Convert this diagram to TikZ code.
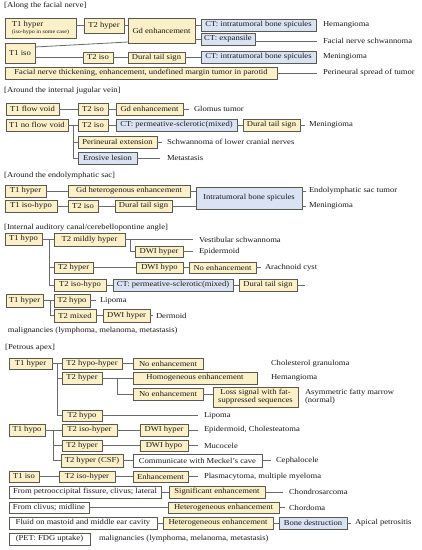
\documentclass[tikz,border=0pt]{standalone}
\usepackage{fontspec}
\setmainfont{Liberation Serif}[FakeStretch=1.13]
\usetikzlibrary{calc}
\definecolor{yfill}{HTML}{FBF0C8}
\definecolor{bfill}{HTML}{DAE3F3}
\definecolor{bord}{HTML}{595950}
\definecolor{lnc}{HTML}{6A6A6A}
\newcommand{\figfs}{\fontsize{7.6}{8.2}\selectfont}
\newcommand{\mybox}[7]{\node[#6,minimum width={#4-#2},minimum height={#5-#3}] (#1) at ({(#2+#4)/2},{(#3+#5)/2}) {#7};}
\tikzset{
  base/.style={draw=bord, line width=0.9pt, inner sep=1pt, outer sep=0pt, font=\figfs, text=black!90},
  yb/.style={base, fill=yfill},
  bb/.style={base, fill=bfill},
  wb/.style={base, fill=white},
  lbl/.style={anchor=west, inner sep=0pt, outer sep=0pt, font=\figfs, text=black!90},
  hdr/.style={anchor=west, inner sep=0pt, font=\figfs, text=black!90},
  ln/.style={draw=lnc, line width=0.8pt}
}
\begin{document}
\begin{tikzpicture}[x=1pt,y=-1pt]
\useasboundingbox[fill=white] (0,0) rectangle (422,550);
% ---------- Section 1
\node[hdr] (h1) at (4,6) {[Along the facial nerve]};
\mybox{fa}{5}{18}{76}{38}{yb,align=left}{T1 hyper\\[-1pt]{\fontsize{5.3}{5.6}\selectfont(iso-hypo in some case)}}
\mybox{fb}{84}{18}{124}{33}{yb}{T2 hyper}
\mybox{fc}{128}{18}{195}{43}{yb}{Gd enhancement}
\mybox{fd}{201}{19}{316}{31}{bb}{CT: intratumoral bone spicules}
\mybox{fe}{201}{33}{255}{45}{bb}{CT: expansile}
\mybox{ff}{5}{43}{35}{63}{yb}{T1 iso}
\mybox{fg}{83}{52}{113}{63}{yb}{T2 iso}
\mybox{fh}{128}{52}{185}{63}{yb}{Dural tail sign}
\mybox{fi}{201}{51}{316}{63}{bb}{CT: intratumoral bone spicules}
\mybox{fj}{5}{67}{277}{79}{yb}{Facial nerve thickening, enhancement, undefined margin tumor in parotid}
\node[lbl] (fl1) at (323,25) {Hemangioma};
\node[lbl] (fl2) at (323,41) {Facial nerve schwannoma};
\node[lbl] (fl3) at (323,57) {Meningioma};
\node[lbl] (fl4) at (323,73) {Perineural spread of tumor};
\draw[ln] (fa.east |- fb.west) -- (fb.west);
\draw[ln] (fb.east) -- (fb.east -| fc.west);
\draw[ln] (fd.west -| fc.east) -- (fd.west);
\draw[ln] (fe.west -| fc.east) -- (fe.west);
\draw[ln,shorten >=6pt] (fe.east |- fl2.west) -- (fl2.west);
\draw[ln] ($(ff.north east)+(0,4)$) -- ($(fc.south west)+(0,-1)$);
\draw[ln] (fg.west -| ff.east) -- (fg.west);
\draw[ln] (fg.east) -- (fh.west);
\draw[ln] (fh.east) -- (fh.east -| fi.west);
\draw[ln,shorten >=6pt] (fj.east) -- (fj.east -| fl4.west);
% ---------- Section 2
\node[hdr] (h2) at (4,91) {[Around the internal jugular vein]};
\mybox{ja}{6}{103}{59}{115}{yb}{T1 flow void}
\mybox{jb}{78}{103}{108}{115}{yb}{T2 iso}
\mybox{jc}{116}{103}{183}{115}{yb}{Gd enhancement}
\node[lbl] (jl1) at (194,109) {Glomus tumor};
\mybox{jd}{6}{119}{68}{131}{yb}{T1 no flow void}
\mybox{je}{78}{119}{108}{131}{yb}{T2 iso}
\mybox{jf}{116}{119}{237}{131}{bb}{CT: permeative-sclerotic(mixed)}
\mybox{jg}{243}{119}{300}{131}{yb}{Dural tail sign}
\node[lbl] (jl2) at (309,125) {Meningioma};
\mybox{jh}{78}{136}{157}{148}{yb}{Perineural extension}
\node[lbl] (jl3) at (167,142) {Schwannoma of lower cranial nerves};
\mybox{ji}{78}{152}{137}{164}{bb}{Erosive lesion}
\node[lbl] (jl4) at (167,158) {Metastasis};
\coordinate (jbr) at (73,125);
\draw[ln] (ja.east) -- (jb.west);
\draw[ln] (jb.east) -- (jc.west);
\draw[ln,shorten >=5pt] (jc.east) -- (jl1.west);
\draw[ln] (jd.east) -- (je.west);
\draw[ln] (je.east) -- (jf.west);
\draw[ln] (jf.east) -- (jg.west);
\draw[ln,shorten >=4pt] (jg.east) -- (jl2.west);
\draw[ln] (jbr) |- (jh.west);
\draw[ln] (jbr) |- (ji.west);
\draw[ln,shorten >=5pt] (jh.east) -- (jl3.west);
\draw[ln,shorten >=7pt] (ji.east) -- (jl4.west);
% ---------- Section 3
\node[hdr] (h3) at (4,176) {[Around the endolymphatic sac]};
\mybox{ea}{5}{185}{46}{197}{yb}{T1 hyper}
\mybox{eb}{68}{185}{190}{197}{yb}{Gd heterogenous enhancement}
\mybox{ec}{196}{187}{302}{209}{bb}{Intratumoral bone spicules}
\mybox{ed}{5}{200}{57}{212}{yb}{T1 iso-hypo}
\mybox{ee}{68}{200}{98}{212}{yb}{T2 iso}
\mybox{ef}{115}{200}{172}{212}{yb}{Dural tail sign}
\node[lbl] (el1) at (309,191) {Endolymphatic sac tumor};
\node[lbl] (el2) at (309,206) {Meningioma};
\draw[ln] (ea.east) -- (eb.west);
\draw[ln] (eb.east) -- (eb.east -| ec.west);
\draw[ln] (ed.east) -- (ee.west);
\draw[ln] (ee.east) -- (ef.west);
\draw[ln] (ef.east) -- (ef.east -| ec.west);
\draw[ln,shorten >=3pt] (ec.east |- el1.west) -- (el1.west);
\draw[ln,shorten >=3pt] (ec.east |- el2.west) -- (el2.west);
% ---------- Section 4
\node[hdr] (h4) at (4,228) {[Internal auditory canal/cerebellopontine angle]};
\mybox{i1}{5}{233}{42}{245}{yb}{T1 hypo}
\mybox{i2}{54}{233}{125}{246}{yb}{T2 mildly hyper}
\node[lbl] (il1) at (199,239.5) {Vestibular schwannoma};
\mybox{i3}{135}{246}{183}{257}{yb}{DWI hyper}
\node[lbl] (il2) at (199,251.5) {Epidermoid};
\mybox{i4}{54}{262}{93}{273}{yb}{T2 hyper}
\mybox{i5}{136}{262}{183}{273}{yb}{DWI hypo}
\mybox{i6}{189}{262}{256}{273}{yb}{No enhancement}
\node[lbl] (il3) at (265,267.5) {Arachnoid cyst};
\mybox{i7}{54}{279}{106}{291}{yb}{T2 iso-hypo}
\mybox{i8}{113}{279}{233}{291}{bb}{CT: permeative-sclerotic(mixed)}
\mybox{i9}{239}{279}{297}{291}{yb}{Dural tail sign}
\coordinate (iend) at (305,285);
\mybox{i10}{6}{294}{43}{307}{yb}{T1 hyper}
\mybox{i11}{54}{294}{90}{307}{yb}{T2 hypo}
\node[lbl] (il4) at (100,300.5) {Lipoma};
\mybox{i12}{54}{309}{96}{322}{yb}{T2 mixed}
\mybox{i13}{103}{309}{150}{322}{yb}{DWI hyper}
\node[lbl] (il5) at (156,315.5) {Dermoid};
\node[lbl] (il6) at (8,331) {malignancies (lymphoma, melanoma, metastasis)};
\coordinate (ibr) at (49,239.5);
\coordinate (ibr2) at (130,239.5);
\coordinate (ibr3) at (50,300.5);
\draw[ln] (i1.east) -- (i1.east -| i2.west);
\draw[ln,shorten >=6pt] (i2.east) -- (i2.east -| il1.west);
\draw[ln] (ibr2) |- (i3.west);
\draw[ln,shorten >=6pt] (i3.east) -- (i3.east -| il2.west);
\draw[ln] (ibr) |- (i4.west);
\draw[ln] (ibr) |- (i7.west);
\draw[ln] (i4.east) -- (i5.west);
\draw[ln] (i5.east) -- (i6.west);
\draw[ln,shorten >=4pt] (i6.east) -- (il3.west);
\draw[ln] (i7.east) -- (i8.west);
\draw[ln] (i8.east) -- (i9.west);
\draw[ln] (i9.east) -- (iend);
\draw[ln] (i10.east) -- (i11.west);
\draw[ln] (ibr3) |- (i12.west);
\draw[ln,shorten >=4pt] (i11.east) -- (il4.west);
\draw[ln] (i12.east) -- (i13.west);
\draw[ln,shorten >=3pt] (i13.east) -- (il5.west);
% ---------- Section 5
\node[hdr] (h5) at (5,348) {[Petrous apex]};
\mybox{p1}{9}{358}{52}{369}{yb}{T1 hyper}
\mybox{p2}{62}{358}{122}{369}{yb}{T2 hypo-hyper}
\mybox{p3}{133}{358}{203}{369}{yb}{No enhancement}
\node[lbl] (pl1) at (271,363.5) {Cholesterol granuloma};
\mybox{p4}{62}{372}{102}{384}{yb}{T2 hyper}
\mybox{p5}{133}{372}{257}{384}{yb}{Homogeneous enhancement}
\node[lbl] (pl2) at (271,378) {Hemangioma};
\mybox{p6}{133}{388}{203}{400}{yb}{No enhancement}
\mybox{p7}{213}{387}{298}{407}{yb,align=center}{Loss signal with fat-\\suppressed sequences}
\node[lbl,align=left] (pl3) at (305,397) {Asymmetric fatty marrow\\(normal)};
\mybox{p8}{62}{410}{102}{421}{yb}{T2 hypo}
\node[lbl] (pl4) at (204,415.5) {Lipoma};
\mybox{p9}{9}{424}{45}{436}{yb}{T1 hypo}
\mybox{p10}{62}{424}{117}{436}{yb}{T2 iso-hyper}
\mybox{p11}{140}{424}{188}{436}{yb}{DWI hyper}
\node[lbl] (pl5) at (204,430) {Epidermoid, Cholesteatoma};
\mybox{p12}{62}{440}{102}{451}{yb}{T2 hyper}
\mybox{p13}{140}{440}{188}{451}{yb}{DWI hypo}
\node[lbl] (pl6) at (204,445.5) {Mucocele};
\mybox{p14}{61}{454}{123}{467}{yb}{T2 hyper (CSF)}
\mybox{p15}{133}{454}{262}{467}{wb}{Communicate with Meckel’s cave}
\node[lbl] (pl7) at (276,460.5) {Cephalocele};
\mybox{p16}{9}{471}{39}{482}{yb}{T1 iso}
\mybox{p17}{59}{471}{115}{482}{yb}{T2 iso-hyper}
\mybox{p18}{133}{471}{188}{482}{yb}{Enhancement}
\node[lbl] (pl8) at (204,476.5) {Plasmacytoma, multiple myeloma};
\mybox{p19}{9}{486}{161}{498}{wb}{From petrooccipital fissure, clivus; lateral}
\mybox{p20}{169}{486}{265}{498}{yb}{Significant enhancement}
\node[lbl] (pl9) at (289,492) {Chondrosarcoma};
\mybox{p21}{9}{502}{89}{513}{wb}{From clivus; midline}
\mybox{p22}{168}{502}{279}{513}{yb}{Heterogeneous enhancement}
\node[lbl] (pl10) at (289,507.5) {Chordoma};
\mybox{p23}{9}{517}{157}{529}{wb}{Fluid on mastoid and middle ear cavity}
\mybox{p24}{163}{517}{273}{529}{yb}{Heterogeneous enhancement}
\mybox{p25}{279}{517}{347}{529}{bb}{Bone destruction}
\node[lbl] (pl11) at (355,523) {Apical petrositis};
\mybox{p26}{9}{533}{90}{545}{wb}{(PET: FDG uptake)}
\node[lbl] (pl12) at (99,539) {malignancies (lymphoma, melanoma, metastasis)};
\coordinate (pbr1) at (57,363.5);
\coordinate (pbr2) at (117,378);
\coordinate (pbr3) at (53,430);
\draw[ln] (p1.east) -- (p2.west);
\draw[ln] (p2.east) -- (p3.west);
\draw[ln] (pbr1) |- (p4.west);
\draw[ln] (pbr1) |- (p8.west);
\draw[ln] (p4.east) -- (p4.east -| p5.west);
\draw[ln] (pbr2) |- (p6.west);
\draw[ln] (p6.east) -- (p6.east -| p7.west);
\draw[ln,shorten >=6pt] (p8.east) -- (p8.east -| pl4.west);
\draw[ln] (p9.east) -- (p10.west);
\draw[ln] (p10.east) -- (p11.west);
\draw[ln,shorten >=6pt] (p11.east) -- (pl5.west);
\draw[ln] (pbr3) |- (p12.west);
\draw[ln] (pbr3) |- (p14.west);
\draw[ln] (p12.east) -- (p13.west);
\draw[ln,shorten >=6pt] (p13.east) -- (pl6.west);
\draw[ln] (p14.east) -- (p15.west);
\draw[ln,shorten >=5pt] (p15.east) -- (pl7.west);
\draw[ln] (p16.east) -- (p17.west);
\draw[ln] (p17.east) -- (p18.west);
\draw[ln,shorten >=6pt] (p18.east) -- (pl8.west);
\draw[ln] (p19.east) -- (p20.west);
\draw[ln,shorten >=6pt] (p20.east) -- (pl9.west);
\draw[ln] (p21.east) -- (p22.west);
\draw[ln,shorten >=4pt] (p22.east) -- (pl10.west);
\draw[ln] (p23.east) -- (p24.west);
\draw[ln] (p24.east) -- (p25.west);
\draw[ln,shorten >=4pt] (p25.east) -- (pl11.west);
\end{tikzpicture}
\end{document}
